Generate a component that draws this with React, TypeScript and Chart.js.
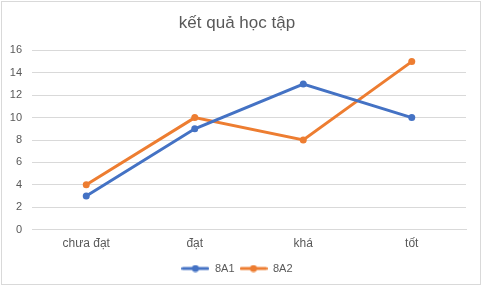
import React, { useEffect, useRef } from 'react';
import { Chart, registerables } from 'chart.js';
Chart.register(...registerables);

const chartTitle = 'kết quả học tập';
const categories = ['chưa đạt', 'đạt', 'khá', 'tốt'];
const seriesNames = ['8A1', '8A2'];
const values8A1 = [3, 9, 13, 10];
const values8A2 = [4, 10, 8, 15];
const seriesColors = ['#4472C4', '#ED7D31'];
const yMin = 0;
const yMax = 16;
const yStep = 2;

const FONT = "'Liberation Sans', Arial, sans-serif";
const TEXT = '#595959';
const GRID = '#d9d9d9';

function legendIcon(color: string): HTMLCanvasElement {
  const c = document.createElement('canvas');
  c.width = 28;
  c.height = 8;
  const ctx = c.getContext('2d')!;
  ctx.strokeStyle = color;
  ctx.lineWidth = 3;
  ctx.lineCap = 'round';
  ctx.beginPath();
  ctx.moveTo(1.5, 4);
  ctx.lineTo(26.5, 4);
  ctx.stroke();
  ctx.fillStyle = color;
  ctx.beginPath();
  ctx.arc(14, 4, 3.5, 0, Math.PI * 2);
  ctx.fill();
  return c;
}

const frame = {
  id: 'frame',
  beforeDraw(chart: any) {
    const { ctx, width, height } = chart;
    ctx.save();
    ctx.fillStyle = '#ffffff';
    ctx.fillRect(0, 0, width, height);
    ctx.strokeStyle = GRID;
    ctx.lineWidth = 1;
    ctx.strokeRect(1.5, 1.5, width - 3, height - 3);
    ctx.restore();
  },
};

export default function App() {
  const ref = useRef<HTMLCanvasElement>(null);
  useEffect(() => {
    document.body.style.margin = '0';
    const icons = seriesColors.map(legendIcon);
    const chart = new Chart(ref.current!, {
      type: 'line',
      data: {
        labels: categories,
        datasets: [
          {
            label: seriesNames[0],
            data: values8A1,
            borderColor: seriesColors[0],
            backgroundColor: seriesColors[0],
            borderWidth: 3,
            pointRadius: 3.5,
            pointBorderWidth: 0,
            pointStyle: 'circle',
            tension: 0,
          },
          {
            label: seriesNames[1],
            data: values8A2,
            borderColor: seriesColors[1],
            backgroundColor: seriesColors[1],
            borderWidth: 3,
            pointRadius: 3.5,
            pointBorderWidth: 0,
            pointStyle: 'circle',
            tension: 0,
          },
        ],
      },
      options: {
        responsive: false,
        animation: false,
        devicePixelRatio: 1,
        layout: { padding: { left: 8, right: 16, top: 0, bottom: 2 } },
        plugins: {
          title: {
            display: true,
            text: chartTitle,
            color: TEXT,
            font: { family: FONT, size: 17, weight: 'normal' },
            padding: { top: 13, bottom: 17 },
          },
          legend: {
            position: 'bottom',
            labels: {
              usePointStyle: true,
              pointStyleWidth: 28,
              color: TEXT,
              font: { family: FONT, size: 11 },
              padding: 5,
              boxWidth: 28,
              boxHeight: 8,
              generateLabels: (chart: any) =>
                chart.data.datasets.map((ds: any, i: number) => ({
                  text: ds.label,
                  fillStyle: ds.borderColor,
                  strokeStyle: ds.borderColor,
                  lineWidth: 0,
                  pointStyle: icons[i],
                  datasetIndex: i,
                  hidden: false,
                  fontColor: TEXT,
                })),
            },
          },
          tooltip: { enabled: false },
        },
        scales: {
          x: {
            offset: true,
            grid: { display: false, drawTicks: false },
            border: { display: true, color: GRID, width: 1 },
            ticks: { color: TEXT, font: { family: FONT, size: 12 }, padding: 7, maxRotation: 0 },
          },
          y: {
            min: yMin,
            max: yMax,
            grid: { color: GRID, drawTicks: false },
            border: { display: false },
            ticks: { stepSize: yStep, color: TEXT, font: { family: FONT, size: 11 }, padding: 10 },
            afterFit: (scale: any) => {
              scale.width = 24;
            },
          },
        },
      },
      plugins: [frame],
    });
    return () => chart.destroy();
  }, []);
  return (
    <div style={{ width: 482, height: 286 }}>
      <canvas ref={ref} width={482} height={286} style={{ display: 'block' }} />
    </div>
  );
}
